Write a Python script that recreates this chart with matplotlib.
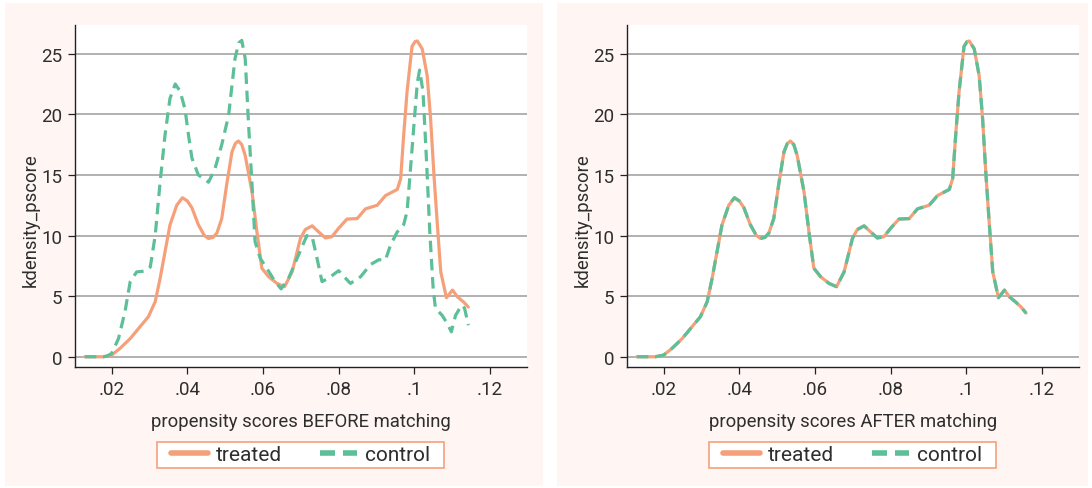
import matplotlib
matplotlib.use("Agg")
import matplotlib.pyplot as plt
from matplotlib.patches import Rectangle

plt.rcParams['font.family'] = ['Roboto', 'DejaVu Sans']

# ---------------- data ----------------
treated_x = [0.0129, 0.0178, 0.0200, 0.0222, 0.0249, 0.0275, 0.0297, 0.0315, 0.0328,
             0.0341, 0.0354, 0.0372, 0.0387, 0.0400, 0.0412, 0.0429, 0.0445, 0.0456,
             0.0468, 0.0478, 0.0491, 0.0504, 0.0518, 0.0527, 0.0535, 0.0544, 0.0553,
             0.0571, 0.0584, 0.0597, 0.0615, 0.0637, 0.0657, 0.0677, 0.0699, 0.0712,
             0.0730, 0.0747, 0.0765, 0.0782, 0.0800, 0.0822, 0.0849, 0.0871, 0.0902,
             0.0924, 0.0955, 0.0964, 0.0972, 0.0981, 0.0994, 0.1002, 0.1008, 0.1021,
             0.1034, 0.1043, 0.1052, 0.1061, 0.1070, 0.1085, 0.1101, 0.1114, 0.1131,
             0.1143]
treated_y = [0.0, 0.0, 0.14, 0.69, 1.5, 2.48, 3.3, 4.54, 6.46,
             8.66, 10.86, 12.5, 13.12, 12.85, 12.3, 10.9, 10.0, 9.76,
             9.85, 10.2, 11.4, 14.2, 16.9, 17.6, 17.8, 17.5, 16.6,
             13.6, 10.3, 7.3, 6.6, 6.05, 5.78, 7.0, 9.76, 10.5,
             10.8, 10.3, 9.8, 9.9, 10.6, 11.36, 11.4, 12.2, 12.5,
             13.3, 13.8, 14.7, 18.3, 21.9, 25.6, 26.0, 26.05, 25.4,
             23.2, 19.7, 15.0, 10.9, 7.0, 4.87, 5.5, 4.95, 4.5,
             4.1]

control_x = [0.0129, 0.0178, 0.0187, 0.0200, 0.0218, 0.0235, 0.0249, 0.0266, 0.0288,
             0.0302, 0.0315, 0.0328, 0.0341, 0.0354, 0.0368, 0.0381, 0.0394, 0.0403,
             0.0412, 0.0429, 0.0456, 0.0473, 0.0491, 0.0509, 0.0526, 0.0536, 0.0544,
             0.0553, 0.0562, 0.0571, 0.0579, 0.0593, 0.0610, 0.0632, 0.0648, 0.0668,
             0.0694, 0.0716, 0.0730, 0.0743, 0.0756, 0.0774, 0.0800, 0.0831, 0.0858,
             0.0884, 0.0906, 0.0924, 0.0937, 0.0955, 0.0972, 0.0981, 0.0990, 0.0999,
             0.1008, 0.1014, 0.1023, 0.1032, 0.1041, 0.1050, 0.1056, 0.1074, 0.1087,
             0.1098, 0.1109, 0.1125, 0.1133, 0.1143]
control_y = [0.0, 0.0, 0.05, 0.27, 1.5, 3.7, 6.2, 7.0, 7.07,
             7.4, 10.0, 14.4, 18.3, 21.3, 22.5, 21.9, 20.4, 18.3,
             16.4, 15.0, 14.4, 15.5, 17.5, 19.9, 24.6, 25.9, 26.1,
             24.6, 19.1, 14.2, 9.5, 8.1, 7.3, 6.2, 5.6, 6.5,
             8.4, 10.0, 9.9, 8.1, 6.2, 6.5, 7.1, 6.05, 6.6,
             7.6, 8.0, 8.0, 9.2, 10.3, 10.9, 12.0, 15.5, 19.1,
             22.6, 23.65, 21.9, 16.4, 10.3, 5.6, 4.0, 3.4, 2.75,
             2.06, 3.4, 4.26, 4.0, 2.6]

after_x = [0.0129, 0.0178, 0.0200, 0.0222, 0.0249, 0.0275, 0.0297, 0.0315, 0.0328,
           0.0341, 0.0354, 0.0372, 0.0387, 0.0400, 0.0412, 0.0429, 0.0445, 0.0456,
           0.0468, 0.0478, 0.0491, 0.0504, 0.0518, 0.0527, 0.0535, 0.0544, 0.0553,
           0.0571, 0.0584, 0.0597, 0.0615, 0.0637, 0.0657, 0.0677, 0.0699, 0.0712,
           0.0730, 0.0747, 0.0765, 0.0782, 0.0800, 0.0822, 0.0849, 0.0871, 0.0902,
           0.0924, 0.0955, 0.0964, 0.0972, 0.0981, 0.0994, 0.1002, 0.1008, 0.1021,
           0.1034, 0.1043, 0.1052, 0.1061, 0.1070, 0.1085, 0.1101, 0.1114, 0.1131,
           0.1145, 0.1158]
after_y = [0.0, 0.0, 0.14, 0.69, 1.5, 2.48, 3.3, 4.54, 6.46,
           8.66, 10.86, 12.5, 13.12, 12.85, 12.3, 10.9, 10.0, 9.76,
           9.85, 10.2, 11.4, 14.2, 16.9, 17.6, 17.8, 17.5, 16.6,
           13.6, 10.3, 7.3, 6.6, 6.05, 5.78, 7.0, 9.76, 10.5,
           10.8, 10.3, 9.8, 9.9, 10.6, 11.36, 11.4, 12.2, 12.5,
           13.3, 13.8, 14.7, 18.3, 21.9, 25.6, 26.0, 26.05, 25.4,
           23.2, 19.7, 15.0, 10.9, 7.0, 4.87, 5.5, 4.95, 4.5,
           4.1, 3.6]

x_ticks = [0.02, 0.04, 0.06, 0.08, 0.10, 0.12]
x_ticklabels = ['.02', '.04', '.06', '.08', '.1', '.12']
y_ticks = [0, 5, 10, 15, 20, 25]
series_labels = ['treated', 'control']
xlabels = ['propensity scores BEFORE matching', 'propensity scores AFTER matching']
ylabel = 'kdensity_pscore'

# ---------------- style ----------------
ORANGE = '#F6A07A'
GREEN = '#5CBF98'
PINK = '#FFF5F2'
GRID = '#ABABAB'
TXT = '#2E2E2E'
W, H = 1092, 489

fig = plt.figure(figsize=(W / 100, H / 100), dpi=100)
fig.patch.set_facecolor('white')

# pink panels (background)
bg = fig.add_axes([0, 0, 1, 1], zorder=-10)
bg.set_xlim(0, W)
bg.set_ylim(H, 0)
bg.axis('off')
for (x0, x1) in [(5, 543), (557, 1088)]:
    bg.add_patch(Rectangle((x0, 4), x1 - x0, 483, facecolor=PINK, edgecolor='none'))
# legend frames
for dx in [0, 552]:
    bg.add_patch(Rectangle((156.5 + dx, 443), 287.5, 26, facecolor='white',
                           edgecolor=ORANGE, linewidth=1.2))

axes_px = [(75, 527), (627, 1079)]
top_px, bot_px = 26, 368.3
series = [((treated_x, treated_y), (control_x, control_y)),
          ((after_x, after_y), (after_x, after_y))]

for i, (xl, xr) in enumerate(axes_px):
    ax = fig.add_axes([xl / W, 1 - bot_px / H, (xr - xl) / W, (bot_px - top_px) / H],
                      zorder=1)
    ax.set_facecolor('white')
    (tx, ty), (cx, cy) = series[i]
    l1, = ax.plot(tx, ty, color=ORANGE, lw=2.3, solid_capstyle='round',
                  solid_joinstyle='round', zorder=3)
    l2, = ax.plot(cx, cy, color=GREEN, lw=2.3, linestyle=(0, (3.6, 2.1)),
                  dash_capstyle='butt', zorder=4)
    ax.set_xlim(0.0103, 0.1298)
    ax.set_ylim(-0.87, 27.37)
    ax.set_xticks(x_ticks)
    ax.set_xticklabels(x_ticklabels)
    ax.set_yticks(y_ticks)
    for yv in y_ticks:
        ax.axhline(yv, color=GRID, lw=1.3, zorder=1)
    for s in ['top', 'right']:
        ax.spines[s].set_visible(False)
    for s in ['left', 'bottom']:
        ax.spines[s].set_color('#222222')
        ax.spines[s].set_linewidth(1.0)
    ax.tick_params(axis='both', direction='out', length=5, width=0.9,
                   color='#222222', labelcolor=TXT, labelsize=13.5, pad=4)
    ax.set_xlabel(xlabels[i], fontsize=13.3, color=TXT)
    ax.set_ylabel(ylabel, fontsize=13.3, color=TXT)
    ax.xaxis.set_label_coords(0.5, (368.3 - 421.7) / 342.3)
    ax.xaxis.label.set_va('center')
    ax.yaxis.set_label_coords((31 - 75) / 452, (368.3 - 220) / 342.3)
    ax.yaxis.label.set_va('center')
    leg_cx = (300.3 + (552 if i == 1 else 0)) / W
    leg = fig.legend([l1, l2], series_labels, loc='center',
                     bbox_to_anchor=(leg_cx, 1 - 456 / H), ncol=2,
                     frameon=False, fontsize=15,
                     handlelength=1.78, handletextpad=0.39, columnspacing=1.82,
                     borderpad=0.2, labelcolor=TXT)
    hl = leg.get_lines()
    hl[0].set_linewidth(4)
    hl[1].set_linewidth(4)
    hl[1].set_linestyle((0, (2.7, 1.44)))

fig.savefig('out.png', dpi=100, facecolor=fig.get_facecolor())
